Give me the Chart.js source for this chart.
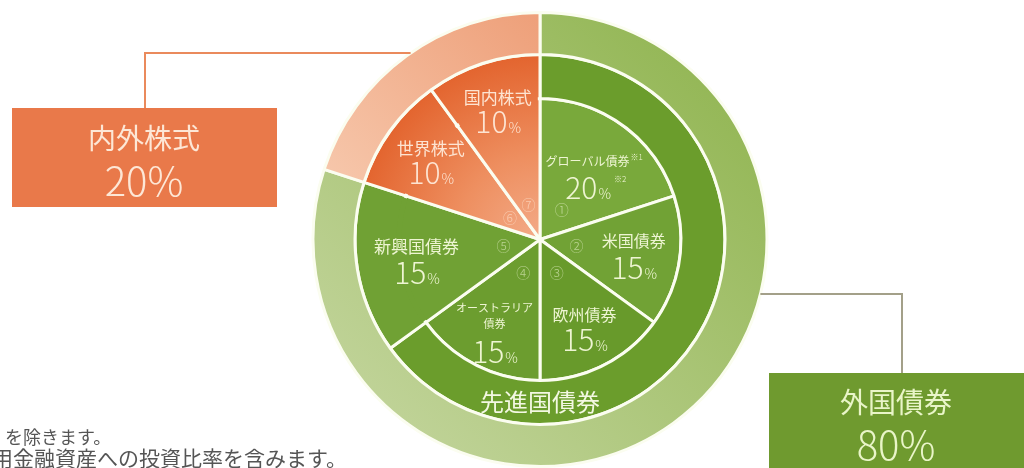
<!DOCTYPE html>
<html lang="ja">
<head>
<meta charset="utf-8">
<script src="https://cdn.jsdelivr.net/npm/chart.js@4.4.1/dist/chart.umd.min.js"></script>
<style>
    html, body { margin: 0; padding: 0; background: #ffffff; }
    #wrap { width: 1024px; height: 468px; position: relative; }
</style>
</head>
<body>
<div id="wrap"><canvas id="allocationChart"></canvas></div>
<script>
// Data (percent of fund)
const fundNames = ['グローバル債券', '米国債券', '欧州債券', 'オーストラリア債券', '新興国債券', '世界株式', '国内株式'];
const fundLabelLines = [['グローバル債券'], ['米国債券'], ['欧州債券'], ['オーストラリア', '債券'], ['新興国債券'], ['世界株式'], ['国内株式']];
const fundValues = [20, 15, 15, 15, 15, 10, 10];
const fundMarks = ['①', '②', '③', '④', '⑤', '⑥', '⑦'];

const groupNames = ['先進国債券', '新興国債券', '世界株式', '国内株式'];
const groupValues = [65, 15, 10, 10];

const assetNames = ['外国債券', '内外株式'];
const assetValues = [80, 20];

const footnotes = ['を除きます。', '用金融資産への投資比率を含みます。'];

const FONT = '"Noto Sans CJK JP", "Noto Sans", sans-serif';

// label layout per inner slice: radius (px from centre), name offset, number offset, name size
const labelLayout = [
    { r: 81, nameDy: -13, numDy: 14, size: 12 },
    { r: 95, nameDy: -13, numDy: 14, size: 16 },
    { r: 98, nameDy: -12, numDy: 13, size: 16 },
    { r: 100, nameDy: -5, numDy: 24, size: 11 },
    { r: 125, nameDy: -13, numDy: 14, size: 17 },
    { r: 135, nameDy: -12, numDy: 13, size: 17 },
    { r: 137, nameDy: -12, numDy: 13, size: 17 }
];

function centre(chart) {
    const a = chart.chartArea;
    return { x: (a.left + a.right) / 2, y: (a.top + a.bottom) / 2 };
}

function stockFill(chart) {
    if (!chart.chartArea) return '#e8723e';
    const c = centre(chart);
    const g = chart.ctx.createRadialGradient(c.x, c.y, 0, c.x, c.y, 186);
    g.addColorStop(0, '#f3ab88');
    g.addColorStop(0.45, '#ee8f60');
    g.addColorStop(1, '#e3642e');
    return g;
}

function lightOrangeFill(chart) {
    if (!chart.chartArea) return '#f3b592';
    const c = centre(chart);
    const g = chart.ctx.createLinearGradient(c.x - 220, c.y, c.x, c.y - 220);
    g.addColorStop(0, '#f8ceb4');
    g.addColorStop(1, '#eea07a');
    return g;
}

function lightGreenFill(chart) {
    if (!chart.chartArea) return '#a6c272';
    const c = centre(chart);
    const g = chart.ctx.createLinearGradient(c.x + 170, c.y - 170, c.x - 170, c.y + 170);
    g.addColorStop(0, '#94b756');
    g.addColorStop(1, '#c0d398');
    return g;
}

const innerColors = ['#79a93b', '#71a235', '#689a2b', '#6c9d2f', '#70a134'];
const emergingColor = '#70a134';
const midGreen = '#6b9d2c';

// hide the circle seam where emerging bonds and stocks run out to the middle ring
const seamCover = {
    id: 'seamCover',
    afterDatasetsDraw(chart) {
        const meta = chart.getDatasetMeta(1);
        const ctx = chart.ctx;
        meta.data.forEach((arc, i) => {
            if (i === 0) return;
            const p = arc.getProps(['x', 'y', 'startAngle', 'endAngle', 'innerRadius']);
            const pad = 2.2 / p.innerRadius;
            ctx.save();
            ctx.beginPath();
            ctx.arc(p.x, p.y, p.innerRadius, p.startAngle + pad, p.endAngle - pad);
            ctx.lineWidth = 5;
            ctx.strokeStyle = arc.options.backgroundColor;
            ctx.stroke();
            ctx.restore();
        });
    }
};

function drawPercent(ctx, x, y, num, bigSize, smallSize, color, note) {
    ctx.font = '300 ' + bigSize + 'px ' + FONT;
    const w1 = ctx.measureText(num).width;
    ctx.font = '300 ' + smallSize + 'px ' + FONT;
    const w2 = ctx.measureText('%').width;
    const left = x - (w1 + w2) / 2;
    const base = y + bigSize * 0.36;
    ctx.fillStyle = color;
    ctx.textAlign = 'left';
    ctx.textBaseline = 'alphabetic';
    ctx.font = '300 ' + bigSize + 'px ' + FONT;
    ctx.fillText(num, left, base);
    ctx.font = '300 ' + smallSize + 'px ' + FONT;
    ctx.fillText('%', left + w1 + 1, base);
    if (note) {
        ctx.font = '300 8px ' + FONT;
        ctx.fillText(note, left + w1 + w2 + 4, base - bigSize * 0.55);
    }
}

const labelPlugin = {
    id: 'labels',
    afterDraw(chart) {
        const ctx = chart.ctx;
        const inner = chart.getDatasetMeta(2);
        const outer = chart.getDatasetMeta(0);
        const c = centre(chart);
        const R = outer.data[0].outerRadius;

        // slice names and values
        inner.data.forEach((arc, i) => {
            const mid = (arc.startAngle + arc.endAngle) / 2;
            const lay = labelLayout[i];
            const ax = c.x + Math.cos(mid) * lay.r;
            const ay = c.y + Math.sin(mid) * lay.r;
            const isStock = i >= 5;
            const color = isStock ? '#fde4d2' : '#eef5d3';
            ctx.save();
            ctx.fillStyle = color;
            ctx.textAlign = 'center';
            ctx.textBaseline = 'middle';
            ctx.font = '400 ' + lay.size + 'px ' + FONT;
            const lines = fundLabelLines[i];
            lines.forEach((line, k) => {
                const ly = ay + lay.nameDy - (lines.length - 1 - k) * 16;
                ctx.fillText(line, ax, ly);
                if (i === 0) {
                    const w = ctx.measureText(line).width;
                    ctx.font = '300 8px ' + FONT;
                    ctx.textAlign = 'left';
                    ctx.fillText('※1', ax + w / 2 + 1, ly - 4);
                }
            });
            drawPercent(ctx, ax, ay + lay.numDy, String(fundValues[i]), 30, 14, color, i === 0 ? '※2' : null);

            // circled index near the hub
            const mx = c.x + Math.cos(mid) * 37;
            const my = c.y + Math.sin(mid) * 37;
            ctx.font = '300 14px ' + FONT;
            ctx.textAlign = 'center';
            ctx.textBaseline = 'middle';
            ctx.fillStyle = isStock ? 'rgba(255, 226, 205, 0.65)' : 'rgba(236, 246, 210, 0.6)';
            ctx.fillText(fundMarks[i], mx, my);
            ctx.restore();
        });

        // group label in the middle ring
        const midMeta = chart.getDatasetMeta(1);
        const m0 = midMeta.data[0];
        const rMid = (m0.innerRadius + m0.outerRadius) / 2;
        ctx.save();
        ctx.fillStyle = '#f3f8e2';
        ctx.font = '400 24px ' + FONT;
        ctx.textAlign = 'center';
        ctx.textBaseline = 'middle';
        ctx.fillText(groupNames[0], c.x, c.y + rMid - 1);
        ctx.restore();

        // connectors
        ctx.save();
        ctx.lineWidth = 2;
        const yTop = 53;
        const xLeftEdge = c.x - Math.sqrt(R * R - (yTop - c.y) * (yTop - c.y));
        ctx.strokeStyle = '#ea8a5c';
        ctx.beginPath();
        ctx.moveTo(145, 108);
        ctx.lineTo(145, yTop);
        ctx.lineTo(xLeftEdge, yTop);
        ctx.stroke();
        const yRight = 294;
        const xRightEdge = c.x + Math.sqrt(R * R - (yRight - c.y) * (yRight - c.y));
        ctx.strokeStyle = '#a3a089';
        ctx.beginPath();
        ctx.moveTo(xRightEdge, yRight);
        ctx.lineTo(902, yRight);
        ctx.lineTo(902, 373);
        ctx.stroke();
        ctx.restore();

        // boxes
        ctx.save();
        ctx.fillStyle = '#e9794a';
        ctx.fillRect(12, 108, 265, 99);
        ctx.fillStyle = '#6f9a2f';
        ctx.fillRect(769, 373, 260, 100);
        ctx.textAlign = 'center';
        ctx.textBaseline = 'middle';
        ctx.fillStyle = '#fde7d6';
        ctx.font = '400 28px ' + FONT;
        ctx.fillText(assetNames[1], 144, 138);
        ctx.font = '300 40px ' + FONT;
        ctx.fillText(assetValues[1] + '%', 144, 181);
        ctx.fillStyle = '#e9f5c8';
        ctx.font = '400 28px ' + FONT;
        ctx.fillText(assetNames[0], 896, 402);
        ctx.font = '300 40px ' + FONT;
        ctx.fillText(assetValues[0] + '%', 896, 445);
        ctx.restore();

        // footnotes (cut at the left edge as in the source)
        ctx.save();
        ctx.fillStyle = '#555555';
        ctx.textBaseline = 'middle';
        ctx.textAlign = 'left';
        ctx.font = '400 18px ' + FONT;
        ctx.fillText(footnotes[0], 5, 437);
        ctx.textAlign = 'right';
        ctx.font = '400 21px ' + FONT;
        ctx.fillText(footnotes[1], 347, 458);
        ctx.restore();
    }
};

function createAllocationChart() {
    const ctx = document.getElementById('allocationChart');
    if (!ctx) return;
    new Chart(ctx, {
        type: 'doughnut',
        data: {
            labels: fundNames,
            datasets: [{
                label: 'asset',
                data: assetValues,
                weight: 42,
                backgroundColor: (c) => c.dataIndex === 0 ? lightGreenFill(c.chart) : lightOrangeFill(c.chart)
            }, {
                label: 'group',
                data: groupValues,
                weight: 44,
                backgroundColor: (c) => {
                    if (c.dataIndex === 0) return midGreen;
                    if (c.dataIndex === 1) return emergingColor;
                    return stockFill(c.chart);
                }
            }, {
                label: 'fund',
                data: fundValues,
                weight: 141,
                backgroundColor: (c) => c.dataIndex >= 5 ? stockFill(c.chart) : innerColors[c.dataIndex]
            }]
        },
        options: {
            responsive: true,
            maintainAspectRatio: false,
            animation: false,
            cutout: 0,
            borderColor: '#fbfdf0',
            borderWidth: 3,
            layout: {
                padding: { top: 11, bottom: 0, left: 56, right: 0 }
            },
            plugins: {
                legend: { display: false },
                tooltip: { enabled: false }
            }
        },
        plugins: [seamCover, labelPlugin]
    });
}

document.addEventListener('DOMContentLoaded', createAllocationChart);
</script>
</body>
</html>
